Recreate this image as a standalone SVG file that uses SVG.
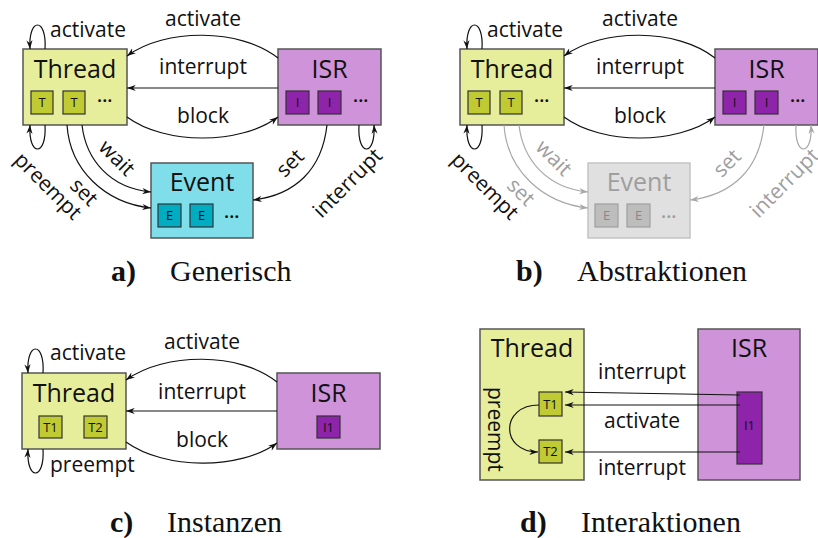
<svg xmlns="http://www.w3.org/2000/svg" width="818" height="538" viewBox="0 0 818 538">
<style>
text{font-family:"Open Sans","DejaVu Sans",sans-serif;fill:#111}
.lbl{font-size:21px}
.ttl{font-size:25px;text-anchor:middle}
.sm{font-size:13px;text-anchor:middle}
.sm2{font-size:13px;text-anchor:middle}
.dots{font-size:16px;font-weight:bold;letter-spacing:0.6px;text-anchor:middle}
.mid{text-anchor:middle}
.cap{font-family:"Liberation Serif",serif;font-size:30px}
.capb{font-family:"Liberation Serif",serif;font-size:30px;font-weight:bold}
.thread{fill:#e6ee9c;stroke:#555;stroke-width:1.5}
.tbox{fill:#c0ca33;stroke:#333;stroke-width:1.2}
.isr{fill:#ce93d8;stroke:#555;stroke-width:1.5}
.ibox{fill:#8e24aa;stroke:#333;stroke-width:1.2}
.event{fill:#80deea;stroke:#555;stroke-width:1.5}
.ebox{fill:#00acc1;stroke:#333;stroke-width:1.2}
.eventg{fill:#e0e0e0;stroke:#c4c4c4;stroke-width:1.5}
.eboxg{fill:#bdbdbd;stroke:#9e9e9e;stroke-width:1.2}
text.g{fill:#9e9e9e}
.c{fill:none;stroke:#111;stroke-width:1.2;marker-end:url(#ah)}
.cg{fill:none;stroke:#a8a8a8;stroke-width:1.2;marker-end:url(#ahg)}
</style>
<defs>
<marker id="ah" viewBox="0 0 10 8" refX="10" refY="4" markerWidth="9" markerHeight="7" markerUnits="userSpaceOnUse" orient="auto"><path d="M0,0.5 L10,4 L0,7.5 L3,4 z" fill="#111"/></marker>
<marker id="ahg" viewBox="0 0 10 8" refX="10" refY="4" markerWidth="9" markerHeight="7" markerUnits="userSpaceOnUse" orient="auto"><path d="M0,0.5 L10,4 L0,7.5 L3,4 z" fill="#a8a8a8"/></marker>
</defs>

<!-- Panel a -->
<g id="panel-a">
  <g id="a-thread">
    <rect class="thread" x="23" y="49" width="104" height="76"/>
    <text class="ttl" x="75" y="78">Thread</text>
    <rect class="tbox" x="31" y="91" width="22" height="23"/><text class="sm" x="42" y="107">T</text>
    <rect class="tbox" x="63" y="91" width="22" height="23"/><text class="sm" x="74" y="107">T</text>
    <text class="dots" x="105" y="102">...</text>
  </g>
  <g id="a-isr">
    <rect class="isr" x="278" y="49" width="103" height="76"/>
    <text class="ttl" x="329.5" y="78">ISR</text>
    <rect class="ibox" x="286" y="91" width="23" height="23"/><text class="sm" x="297.5" y="107">I</text>
    <rect class="ibox" x="318" y="91" width="23" height="23"/><text class="sm" x="329.5" y="107">I</text>
    <text class="dots" x="361" y="102">...</text>
  </g>
  <g id="a-event">
    <rect class="event" x="151" y="163" width="102" height="75"/>
    <text class="ttl" x="202" y="191">Event</text>
    <rect class="ebox" x="158" y="204" width="23" height="23"/><text class="sm" x="169.5" y="220">E</text>
    <rect class="ebox" x="190" y="204" width="23" height="23"/><text class="sm" x="201.5" y="220">E</text>
    <text class="dots" x="232" y="218">...</text>
  </g>
  <g id="a-connectors">
    <path class="c" d="M278,58 C240,28 165,28 127,56"/>
    <path class="c" d="M278,88 L127,88"/>
    <path class="c" d="M127,117 C165,145 240,145 278,117"/>
    <path class="c" d="M45,49 C47,17 28,17 30,49"/>
    <path class="c" d="M45,125 C47,157 28,157 30,125"/>
    <path class="c" d="M82,125 C86,160 110,188 151,192"/>
    <path class="c" d="M67,125 C70,170 105,203 151,208"/>
    <path class="c" d="M327,125 C322,170 295,195 253,200"/>
    <path class="c" d="M359,125 C357,157 376,157 374,125"/>
    <text class="lbl mid" x="203" y="26">activate</text>
    <text class="lbl" x="50" y="37">activate</text>
    <text class="lbl mid" x="203" y="74">interrupt</text>
    <text class="lbl mid" x="203" y="123">block</text>
    <text class="lbl mid" transform="translate(43,191) rotate(45)">preempt</text>
    <text class="lbl mid" transform="translate(112,163) rotate(45)">wait</text>
    <text class="lbl mid" transform="translate(79,197) rotate(45)">set</text>
    <text class="lbl mid" transform="translate(295,168) rotate(-45)">set</text>
    <text class="lbl mid" transform="translate(352.5,188) rotate(-45)">interrupt</text>
  </g>
</g>

<!-- Panel b -->
<g id="panel-b" transform="translate(437,0)">
  <g id="b-thread">
    <rect class="thread" x="23" y="49" width="104" height="76"/>
    <text class="ttl" x="75" y="78">Thread</text>
    <rect class="tbox" x="31" y="91" width="22" height="23"/><text class="sm" x="42" y="107">T</text>
    <rect class="tbox" x="63" y="91" width="22" height="23"/><text class="sm" x="74" y="107">T</text>
    <text class="dots" x="105" y="102">...</text>
  </g>
  <g id="b-isr">
    <rect class="isr" x="278" y="49" width="103" height="76"/>
    <text class="ttl" x="329.5" y="78">ISR</text>
    <rect class="ibox" x="286" y="91" width="23" height="23"/><text class="sm" x="297.5" y="107">I</text>
    <rect class="ibox" x="318" y="91" width="23" height="23"/><text class="sm" x="329.5" y="107">I</text>
    <text class="dots" x="361" y="102">...</text>
  </g>
  <g id="b-event">
    <rect class="eventg" x="151" y="163" width="102" height="75"/>
    <text class="ttl g" x="202" y="191">Event</text>
    <rect class="eboxg" x="158" y="204" width="23" height="23"/><text class="sm g" x="169.5" y="220" style="fill:#888">E</text>
    <rect class="eboxg" x="190" y="204" width="23" height="23"/><text class="sm g" x="201.5" y="220" style="fill:#888">E</text>
    <text class="dots g" x="232" y="218">...</text>
  </g>
  <g id="b-connectors">
    <path class="c" d="M278,58 C240,28 165,28 127,56"/>
    <path class="c" d="M278,88 L127,88"/>
    <path class="c" d="M127,117 C165,145 240,145 278,117"/>
    <path class="c" d="M45,49 C47,17 28,17 30,49"/>
    <path class="c" d="M45,125 C47,157 28,157 30,125"/>
    <path class="cg" d="M82,125 C86,160 110,188 151,192"/>
    <path class="cg" d="M67,125 C70,170 105,203 151,208"/>
    <path class="cg" d="M327,125 C322,170 295,195 253,200"/>
    <path class="cg" d="M359,125 C357,157 376,157 374,125"/>
    <text class="lbl mid" x="203" y="26">activate</text>
    <text class="lbl" x="50" y="37">activate</text>
    <text class="lbl mid" x="203" y="74">interrupt</text>
    <text class="lbl mid" x="203" y="123">block</text>
    <text class="lbl mid" transform="translate(43,191) rotate(45)">preempt</text>
    <text class="lbl mid g" transform="translate(112,163) rotate(45)">wait</text>
    <text class="lbl mid g" transform="translate(79,197) rotate(45)">set</text>
    <text class="lbl mid g" transform="translate(295,168) rotate(-45)">set</text>
    <text class="lbl mid g" transform="translate(352.5,188) rotate(-45)">interrupt</text>
  </g>
</g>

<!-- Panel c -->
<g id="panel-c">
  <g id="c-thread">
    <rect class="thread" x="22" y="373" width="104" height="76"/>
    <text class="ttl" x="74" y="402">Thread</text>
    <rect class="tbox" x="39" y="416" width="23" height="22"/><text class="sm2" x="50.5" y="431.5">T1</text>
    <rect class="tbox" x="84" y="416" width="23" height="22"/><text class="sm2" x="95.5" y="431.5">T2</text>
  </g>
  <g id="c-isr">
    <rect class="isr" x="277" y="373" width="103" height="76"/>
    <text class="ttl" x="328.5" y="402">ISR</text>
    <rect class="ibox" x="317" y="416" width="23" height="22"/><text class="sm2" x="328.5" y="431.5">I1</text>
  </g>
  <g id="c-connectors">
    <path class="c" d="M277,382 C240,352 165,352 126,380"/>
    <path class="c" d="M277,411 L126,411"/>
    <path class="c" d="M126,442 C165,470 240,470 277,443"/>
    <path class="c" d="M43,373 C45,341 26,341 28,373"/>
    <path class="c" d="M43,449 C45,481 26,481 28,449"/>
    <text class="lbl mid" x="202" y="349">activate</text>
    <text class="lbl" x="50" y="360">activate</text>
    <text class="lbl mid" x="202" y="399">interrupt</text>
    <text class="lbl mid" x="202" y="447">block</text>
    <text class="lbl" x="50" y="472">preempt</text>
  </g>
</g>

<!-- Panel d -->
<g id="panel-d">
  <g id="d-thread">
    <rect class="thread" x="480" y="329" width="104" height="151"/>
    <text class="ttl" x="532" y="357">Thread</text>
    <text class="lbl" transform="translate(488,387) rotate(90)">preempt</text>
    <rect class="tbox" x="539" y="392" width="23" height="24"/><text class="sm2" x="550.5" y="408.5">T1</text>
    <rect class="tbox" x="539" y="440" width="23" height="23"/><text class="sm2" x="550.5" y="456">T2</text>
  </g>
  <g id="d-isr">
    <rect class="isr" x="698" y="329" width="102" height="151"/>
    <text class="ttl" x="749" y="357">ISR</text>
    <rect class="ibox" x="737" y="392" width="25" height="72"/><text class="sm2" x="749.5" y="430">I1</text>
  </g>
  <g id="d-connectors">
    <path class="c" d="M740,395 L565,392"/>
    <path class="c" d="M740,405 L565,405"/>
    <path class="c" d="M740,452 L565,452"/>
    <path class="c" d="M539,405 C500,405 500,452 538,452"/>
    <text class="lbl mid" x="642" y="379">interrupt</text>
    <text class="lbl mid" x="642" y="428">activate</text>
    <text class="lbl mid" x="642" y="475">interrupt</text>
  </g>
</g>

<!-- Captions -->
<g id="captions">
  <text class="capb" x="111" y="281">a)</text><text class="cap" x="170" y="281">Generisch</text>
  <text class="capb" x="516" y="281">b)</text><text class="cap" x="577" y="281">Abstraktionen</text>
  <text class="capb" x="110" y="532">c)</text><text class="cap" x="167" y="532">Instanzen</text>
  <text class="capb" x="520" y="532">d)</text><text class="cap" x="581" y="532">Interaktionen</text>
</g>
</svg>
